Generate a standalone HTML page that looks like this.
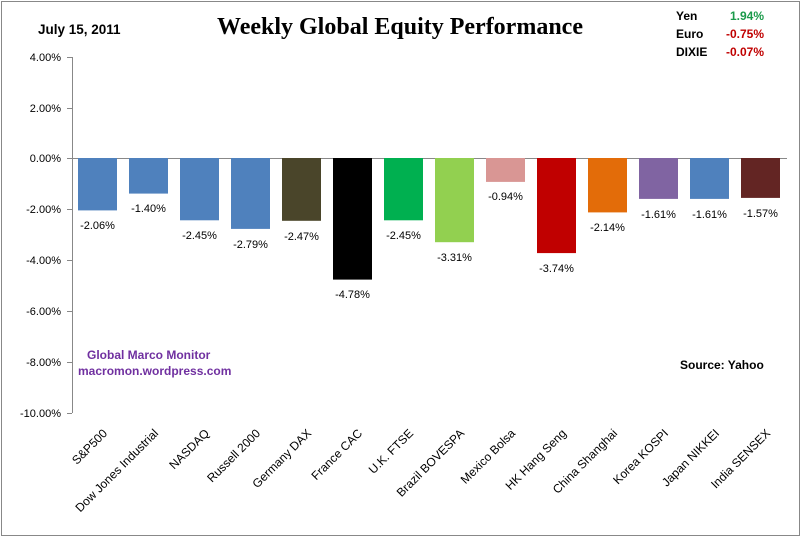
<!DOCTYPE html>
<html><head><meta charset="utf-8"><style>
html,body{margin:0;padding:0;background:#fff;}
svg{display:block;}
</style></head><body>
<svg width="802" height="539" xmlns="http://www.w3.org/2000/svg" font-family="Liberation Sans, sans-serif">
<rect x="1.5" y="1.5" width="798" height="534" fill="#fff" stroke="#888" stroke-width="1"/>
<text x="38" y="34" font-size="13.5" font-weight="bold">July 15, 2011</text>
<text x="400" y="34" font-size="24" font-weight="bold" font-family="Liberation Serif, serif" text-anchor="middle">Weekly Global Equity Performance</text>
<g font-size="12" font-weight="bold">
<text x="676" y="20">Yen</text><text x="764" y="20" text-anchor="end" fill="#1a9a4a">1.94%</text>
<text x="676" y="38">Euro</text><text x="764" y="38" text-anchor="end" fill="#c00000">-0.75%</text>
<text x="676" y="56">DIXIE</text><text x="764" y="56" text-anchor="end" fill="#c00000">-0.07%</text>
</g>
<g font-size="11" text-anchor="end">
<text x="61" y="61">4.00%</text>
<text x="61" y="112">2.00%</text>
<text x="61" y="162">0.00%</text>
<text x="61" y="213">-2.00%</text>
<text x="61" y="264">-4.00%</text>
<text x="61" y="315">-6.00%</text>
<text x="61" y="366">-8.00%</text>
<text x="61" y="417">-10.00%</text>
</g>
<g stroke="#888" stroke-width="1">
<line x1="72.5" y1="57" x2="72.5" y2="413"/>
<line x1="67" y1="57.5" x2="72" y2="57.5"/>
<line x1="67" y1="108.5" x2="72" y2="108.5"/>
<line x1="67" y1="158.5" x2="72" y2="158.5"/>
<line x1="67" y1="209.5" x2="72" y2="209.5"/>
<line x1="67" y1="260.5" x2="72" y2="260.5"/>
<line x1="67" y1="311.5" x2="72" y2="311.5"/>
<line x1="67" y1="362.5" x2="72" y2="362.5"/>
<line x1="67" y1="413.5" x2="72" y2="413.5"/>
</g>
<line x1="72" y1="158.5" x2="787" y2="158.5" stroke="#888" stroke-width="1"/>
<text x="87" y="359" font-size="12" font-weight="bold" fill="#7030a0">Global  Marco  Monitor</text>
<text x="78" y="375" font-size="12" font-weight="bold" fill="#7030a0">macromon.wordpress.com</text>
<text x="680" y="369" font-size="12" font-weight="bold">Source:  Yahoo</text>
<g font-size="11">
<rect x="78" y="158" width="39" height="52.4" fill="#4f81bd"/><text x="97.5" y="229" text-anchor="middle">-2.06%</text>
<rect x="129" y="158" width="39" height="35.6" fill="#4f81bd"/><text x="148.5" y="212" text-anchor="middle">-1.40%</text>
<rect x="180" y="158" width="39" height="62.3" fill="#4f81bd"/><text x="199.5" y="239" text-anchor="middle">-2.45%</text>
<rect x="231" y="158" width="39" height="70.9" fill="#4f81bd"/><text x="250.5" y="248" text-anchor="middle">-2.79%</text>
<rect x="282" y="158" width="39" height="62.8" fill="#4a452a"/><text x="301.5" y="240" text-anchor="middle">-2.47%</text>
<rect x="333" y="158" width="39" height="121.6" fill="#000"/><text x="352.5" y="298" text-anchor="middle">-4.78%</text>
<rect x="384" y="158" width="39" height="62.3" fill="#00b050"/><text x="403.5" y="239" text-anchor="middle">-2.45%</text>
<rect x="435" y="158" width="39" height="84.2" fill="#92d050"/><text x="454.5" y="261" text-anchor="middle">-3.31%</text>
<rect x="486" y="158" width="39" height="23.9" fill="#d99694"/><text x="505.5" y="200" text-anchor="middle">-0.94%</text>
<rect x="537" y="158" width="39" height="95.1" fill="#c00000"/><text x="556.5" y="272" text-anchor="middle">-3.74%</text>
<rect x="588" y="158" width="39" height="54.4" fill="#e36c09"/><text x="607.5" y="231" text-anchor="middle">-2.14%</text>
<rect x="639" y="158" width="39" height="40.9" fill="#8064a2"/><text x="658.5" y="218" text-anchor="middle">-1.61%</text>
<rect x="690" y="158" width="39" height="40.9" fill="#4f81bd"/><text x="709.5" y="218" text-anchor="middle">-1.61%</text>
<rect x="741" y="158" width="39" height="39.9" fill="#632523"/><text x="760.5" y="217" text-anchor="middle">-1.57%</text>
</g>
<g font-size="12" text-anchor="end">
<text transform="translate(108,434) rotate(-45)">S&amp;P500</text>
<text transform="translate(159,434) rotate(-45)">Dow Jones Industrial</text>
<text transform="translate(210,434) rotate(-45)">NASDAQ</text>
<text transform="translate(261,434) rotate(-45)">Russell 2000</text>
<text transform="translate(312,434) rotate(-45)">Germany DAX</text>
<text transform="translate(363,434) rotate(-45)">France CAC</text>
<text transform="translate(414,434) rotate(-45)">U.K. FTSE</text>
<text transform="translate(465,434) rotate(-45)">Brazil BOVESPA</text>
<text transform="translate(516,434) rotate(-45)">Mexico Bolsa</text>
<text transform="translate(567,434) rotate(-45)">HK  Hang Seng</text>
<text transform="translate(618,434) rotate(-45)">China Shanghai</text>
<text transform="translate(669,434) rotate(-45)">Korea KOSPI</text>
<text transform="translate(720,434) rotate(-45)">Japan NIKKEI</text>
<text transform="translate(771,434) rotate(-45)">India SENSEX</text>
</g>
</svg>
</body></html>
